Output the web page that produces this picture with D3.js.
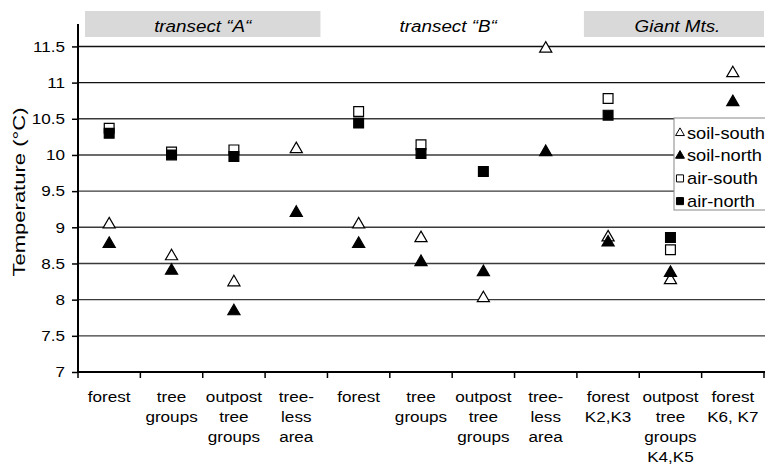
<!DOCTYPE html>
<html>
<head>
<meta charset="utf-8">
<script src="https://cdn.jsdelivr.net/npm/d3@7"></script>
<style>
  body { margin: 0; background: #fff; }
  text { font-family: "Liberation Sans", Arial, sans-serif; fill: #000; }
</style>
</head>
<body>
<div id="chart"></div>
<script>
// categories (x labels, multi-line)
var categories = [
  ["forest"],
  ["tree", "groups"],
  ["outpost", "tree", "groups"],
  ["tree-", "less", "area"],
  ["forest"],
  ["tree", "groups"],
  ["outpost", "tree", "groups"],
  ["tree-", "less", "area"],
  ["forest", "K2,K3"],
  ["outpost", "tree", "groups", "K4,K5"],
  ["forest", "K6, K7"]
];

// series values (null = not measured)
var soilSouth = [9.04, 8.6, 8.24, 10.08, 9.04, 8.85, 8.02, 11.47, 8.86, 8.27, 11.13];
var soilNorth = [8.77, 8.4, 7.84, 9.2, 8.77, 8.52, 8.38, 10.04, 8.79, 8.37, 10.73];
var airSouth  = [10.37, 10.04, 10.07, null, 10.6, 10.14, null, null, 10.78, 8.69, null];
var airNorth  = [10.3, 10.0, 9.98, null, 10.44, 10.02, 9.77, null, 10.55, 8.86, null];

var yTicks = [7, 7.5, 8, 8.5, 9, 9.5, 10, 10.5, 11, 11.5];
var seriesNames = ["soil-south", "soil-north", "air-south", "air-north"];

var width = 765, height = 465;
var margin = {left: 78, right: 764, top: 24, bottom: 372};
var stretch = 1.14; // text in the original is a bit wide

var svg = d3.select("#chart")
  .append("svg")
    .attr("width", width)
    .attr("height", height);

var x = d3.scaleBand()
  .domain(d3.range(categories.length))
  .range([margin.left, margin.right]);

var y = d3.scaleLinear()
  .domain([7, 11.81])
  .range([margin.bottom, margin.top]);

function place(px, py) {
  return "translate(" + px + "," + py + ") scale(" + stretch + ",1)";
}

// group headers
var headers = [
  {label: "transect \u201cA\u201c", from: 0, to: 3, box: true, dx: 0},
  {label: "transect \u201cB\u201c", from: 4, to: 7, box: false, dx: -4},
  {label: "Giant Mts.", from: 8, to: 10, box: true, dx: 7}
];
headers.forEach(function(h) {
  var x0 = x(h.from) + 7, x1 = x(h.to) + x.bandwidth() - (h.to == 10 ? 0 : 7);
  if (h.box) {
    svg.append("rect")
      .attr("x", x0).attr("y", 11)
      .attr("width", x1 - x0).attr("height", 26)
      .style("fill", "#d9d9d9");
  }
  svg.append("text")
    .attr("transform", place((x(h.from) + x(h.to) + x.bandwidth()) / 2 + h.dx, 31.5))
    .attr("text-anchor", "middle")
    .style("font-size", "16.5px")
    .style("font-style", "italic")
    .text(h.label);
});

// gridlines
svg.append("g")
  .selectAll("line")
  .data(yTicks.slice(1))
  .enter()
  .append("line")
    .attr("x1", margin.left).attr("x2", width)
    .attr("y1", function(d) { return y(d); })
    .attr("y2", function(d) { return y(d); })
    .style("stroke", function(d) { return d >= 11 ? "#111" : "#3a3a3a"; })
    .style("stroke-width", 1.4);

// y axis
var yAxis = svg.append("g")
  .attr("transform", "translate(" + margin.left + ",0)")
  .call(d3.axisLeft(y).tickValues(yTicks).tickFormat(d3.format("")).tickSize(6));
yAxis.select(".domain").attr("d", "M0," + margin.top + "V" + margin.bottom).style("stroke-width", 2);
yAxis.selectAll(".tick line").style("stroke-width", 1.5);
yAxis.selectAll(".tick text")
  .style("font-size", "15px")
  .attr("x", 0)
  .attr("transform", place(-13, 0));

// x axis
svg.append("line")
  .attr("x1", margin.left).attr("x2", width)
  .attr("y1", margin.bottom).attr("y2", margin.bottom)
  .style("stroke", "#000").style("stroke-width", 2);
svg.append("g")
  .selectAll("line")
  .data(d3.range(categories.length + 1))
  .enter()
  .append("line")
    .attr("x1", function(d) { return margin.left + d * x.step(); })
    .attr("x2", function(d) { return margin.left + d * x.step(); })
    .attr("y1", margin.bottom).attr("y2", margin.bottom + 6)
    .style("stroke", "#000").style("stroke-width", 1.5);

// x labels
var lab = svg.append("g")
  .selectAll("text")
  .data(categories)
  .enter()
  .append("text")
    .attr("transform", function(d, i) { return place(x(i) + x.bandwidth() / 2, 0); })
    .attr("text-anchor", "middle")
    .style("font-size", "15px");
lab.selectAll("tspan")
  .data(function(d) { return d; })
  .enter()
  .append("tspan")
    .attr("x", 0)
    .attr("y", function(d, j) { return 402 + j * 20; })
    .text(function(d) { return d; });

// y axis label
svg.append("text")
  .attr("transform", "rotate(-90)")
  .attr("x", -192)
  .attr("y", 25)
  .attr("text-anchor", "middle")
  .attr("textLength", 169)
  .attr("lengthAdjust", "spacingAndGlyphs")
  .style("font-size", "16.5px")
  .text("Temperature (\u00b0C)");

// markers
var tri = d3.symbol().type(d3.symbolTriangle).size(64);
var sq = d3.symbol().type(d3.symbolSquare).size(96);
function cx(i) { return x(i) + x.bandwidth() / 2; }

function drawSeries(vals, shape, filled) {
  svg.append("g")
    .selectAll("path")
    .data(vals.map(function(v, i) { return {v: v, i: i}; }).filter(function(d) { return d.v != null; }))
    .enter()
    .append("path")
      .attr("d", shape)
      .attr("transform", function(d) { return "translate(" + cx(d.i) + "," + y(d.v) + ")"; })
      .style("fill", filled ? "#000" : "#fff")
      .style("stroke", "#000")
      .style("stroke-width", 1.2);
}
drawSeries(airSouth, sq, false);
drawSeries(airNorth, sq, true);
drawSeries(soilSouth, tri, false);
drawSeries(soilNorth, tri, true);

// legend
var lg = svg.append("g").attr("transform", "translate(674,118)");
lg.append("rect")
  .attr("width", 110).attr("height", 92)
  .style("fill", "#fff").style("stroke", "#888");
var lshapes = [
  {s: d3.symbol().type(d3.symbolTriangle).size(34), f: false},
  {s: d3.symbol().type(d3.symbolTriangle).size(34), f: true},
  {s: d3.symbol().type(d3.symbolSquare).size(50), f: false},
  {s: d3.symbol().type(d3.symbolSquare).size(50), f: true}
];
seriesNames.forEach(function(n, i) {
  lg.append("path")
    .attr("d", lshapes[i].s)
    .attr("transform", "translate(6," + (15 + i * 22.7) + ")")
    .style("fill", lshapes[i].f ? "#000" : "#fff")
    .style("stroke", "#000");
  lg.append("text")
    .attr("transform", place(13, 15 + i * 22.7))
    .attr("dy", "0.35em")
    .style("font-size", "16px")
    .text(n);
});
</script>
</body>
</html>
